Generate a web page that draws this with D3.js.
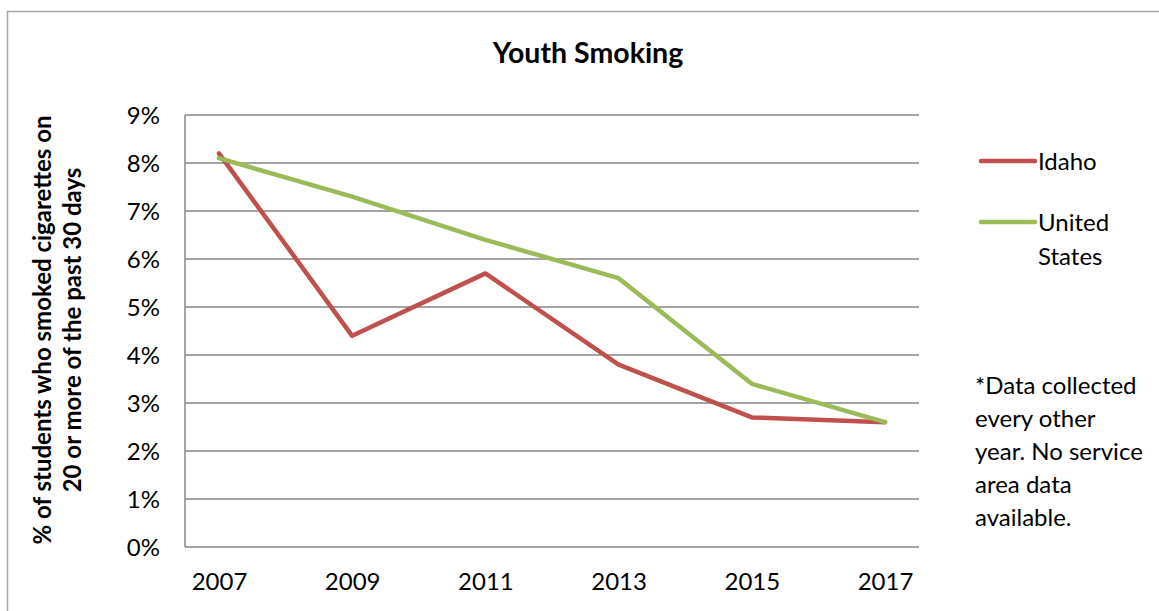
<!DOCTYPE html>
<html><head><meta charset="utf-8">
<script src="https://cdn.jsdelivr.net/npm/d3@7"></script>
<style>body{margin:0;background:#fff}svg{display:block}text{font-family:Lato,"Open Sans",sans-serif;fill:#000}</style>
</head><body><svg id="c" width="1159" height="611"></svg>
<script>
const years = ["2007","2009","2011","2013","2015","2017"];
const idaho = [8.2, 4.4, 5.7, 3.8, 2.7, 2.6];
const us = [8.1, 7.3, 6.4, 5.6, 3.4, 2.6];
const yTicks = [0,1,2,3,4,5,6,7,8,9];
const seriesNames = ["Idaho", "United States"];
const colors = ["#C0504D", "#9BBB59"];

const svg = d3.select("#c");
const L = 185, R = 919, T = 115, B = 547;
svg.append("rect").attr("x",7.5).attr("y",11.5).attr("width",1160).attr("height",620)
  .attr("fill","#fff").attr("stroke","#a6a6a6").attr("stroke-width",1.5);

const x = d3.scalePoint().domain(years).range([L,R]).padding(0.255);
const y = d3.scaleLinear().domain([0,9]).range([B,T]);

// gridlines
svg.append("g").selectAll("line").data(yTicks).join("line")
  .attr("x1",L).attr("x2",R).attr("y1",d=>y(d)).attr("y2",d=>y(d))
  .attr("stroke","#868686").attr("stroke-width",1.5);
svg.append("line").attr("x1",L).attr("x2",L).attr("y1",T).attr("y2",B)
  .attr("stroke","#868686").attr("stroke-width",1.5);

// y axis labels
const yAxis = d3.axisLeft(y).tickValues(yTicks).tickFormat(d=>d+"%").tickSize(0).tickPadding(25);
const ya = svg.append("g").attr("transform",`translate(${L},0)`).call(yAxis);
ya.select(".domain").remove();
ya.selectAll("text").attr("font-size",24).attr("font-family","Lato, 'Open Sans', sans-serif").attr("dy","0.36em").attr("fill","#000");

const xAxis = d3.axisBottom(x).tickSize(0).tickPadding(26);
const xa = svg.append("g").attr("transform",`translate(0,${B})`).call(xAxis);
xa.select(".domain").remove();
xa.selectAll("text").attr("font-size",24).attr("font-family","Lato, 'Open Sans', sans-serif").attr("fill","#000");

// lines
const line = d3.line().x((d,i)=>x(years[i])).y(d=>y(d));
[idaho, us].forEach((s,i)=>{
  svg.append("path").attr("d",line(s)).attr("fill","none")
    .attr("stroke",colors[i]).attr("stroke-width",4.5).attr("stroke-linejoin","round").attr("stroke-linecap","round");
});

// title
svg.append("text").attr("x",588).attr("y",63).attr("text-anchor","middle")
  .attr("font-size",28.5).attr("font-weight","bold").text("Youth Smoking");

// y title
const yt = svg.append("text").attr("transform","translate(0,330) rotate(-90)")
  .attr("text-anchor","middle").attr("font-size",24).attr("font-weight","bold");
yt.append("tspan").attr("x",0).attr("y",51).text("% of students who smoked cigarettes on");
yt.append("tspan").attr("x",0).attr("y",81).text("20 or more of the past 30 days");

// legend
const lg = [[161,["Idaho"]],[222,["United","States"]]];
lg.forEach(([ly,lines],i)=>{
  svg.append("line").attr("x1",981).attr("x2",1035).attr("y1",ly).attr("y2",ly)
    .attr("stroke",colors[i]).attr("stroke-width",4.5).attr("stroke-linecap","round");
  lines.forEach((t,j)=>svg.append("text").attr("x",1038).attr("y",ly+9+j*34).attr("font-size",24).text(t));
});

// note
const note = ["*Data collected","every other","year. No service","area data","available."];
note.forEach((t,j)=>svg.append("text").attr("x",975).attr("y",394+j*33).attr("font-size",24).text(t));
</script></body></html>
